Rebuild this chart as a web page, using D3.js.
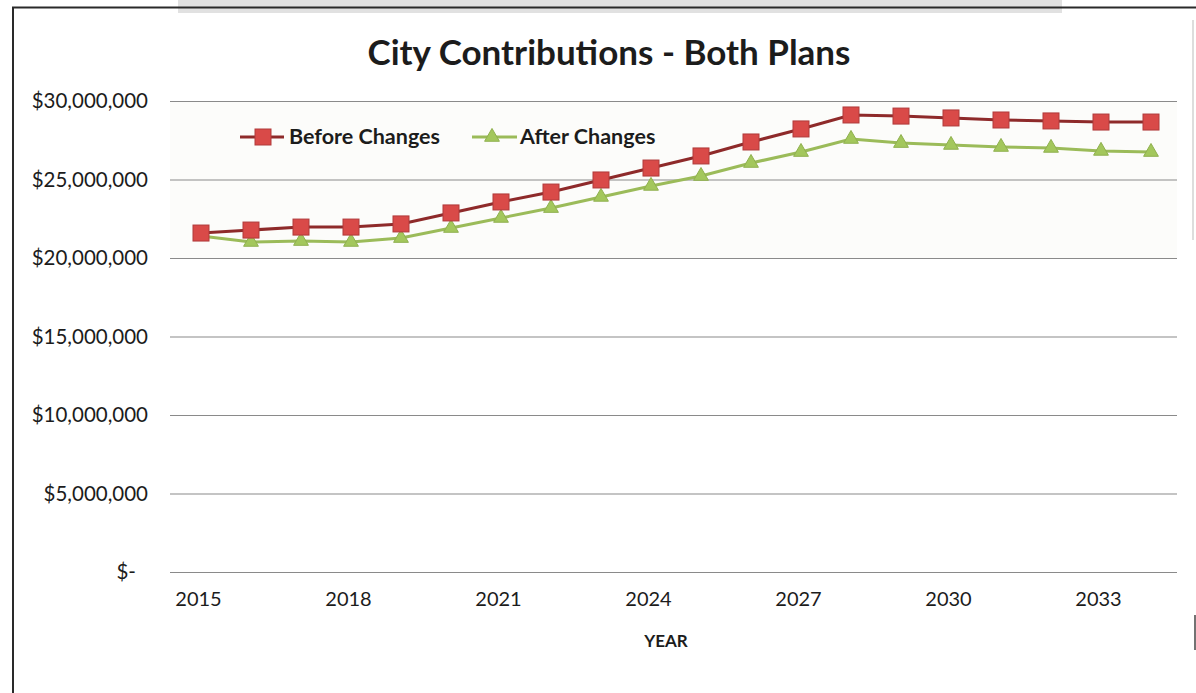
<!DOCTYPE html>
<html><head><meta charset="utf-8">
<script src="https://cdn.jsdelivr.net/npm/d3@7"></script>
<style>
body{margin:0;background:#fff}
svg{display:block}
text{font-family:Lato,"Open Sans",sans-serif;fill:#1c1c1c}
</style>
</head><body>
<svg id="c" width="1196" height="693"></svg>
<script>
const years = [2015,2016,2017,2018,2019,2020,2021,2022,2023,2024,2025,2026,2027,2028,2029,2030,2031,2032,2033,2034];
const beforeChanges = [21.59,21.78,21.97,21.97,22.17,22.87,23.57,24.20,24.97,25.73,26.50,27.39,28.22,29.11,29.04,28.92,28.79,28.73,28.66,28.66].map(v=>v*1e6);
const afterChanges  = [21.40,21.02,21.08,21.02,21.27,21.91,22.55,23.18,23.89,24.59,25.22,26.05,26.75,27.58,27.32,27.20,27.07,27.01,26.82,26.75].map(v=>v*1e6);
const yTickValues = [0,5000000,10000000,15000000,20000000,25000000,30000000];
const xTickYears = [2015,2018,2021,2024,2027,2030,2033];
const seriesNames = ["Before Changes","After Changes"];
const titleText = "City Contributions - Both Plans";
const xAxisTitle = "YEAR";

const svg = d3.select("#c");

// chart frame
svg.append("rect").attr("x",178).attr("y",0).attr("width",884).attr("height",13).attr("fill","#d9d9d9").attr("opacity",0.8);
svg.append("line").attr("x1",12).attr("x2",1196).attr("y1",7.5).attr("y2",7.5).attr("stroke","#2a2a2a").attr("stroke-width",2);
svg.append("line").attr("x1",13).attr("x2",13).attr("y1",7).attr("y2",693).attr("stroke","#2a2a2a").attr("stroke-width",2);
svg.append("line").attr("x1",1193).attr("x2",1193).attr("y1",20).attr("y2",240).attr("stroke","#bbb").attr("stroke-width",1);
svg.append("line").attr("x1",1195).attr("x2",1195).attr("y1",615).attr("y2",650).attr("stroke","#444").attr("stroke-width",1.5);

const x = d3.scalePoint().domain(years).range([201,1151]);
const y = d3.scaleLinear().domain([0,30000000]).range([572,101]);

// plot area tint
svg.append("rect").attr("x",170).attr("y",y(30000000)).attr("width",1007).attr("height",y(20000000)-y(30000000)).attr("fill","#fcfcfa");

// gridlines + y labels
const yFmt = d => d===0 ? "$-" : "$" + d3.format(",")(d);
const yAxis = d3.axisLeft(y).tickValues(yTickValues).tickSize(-1007).tickFormat(yFmt).tickPadding(22);
const gy = svg.append("g").attr("transform","translate(170,0)").call(yAxis);
gy.select(".domain").remove();
gy.selectAll(".tick line").attr("stroke","#8a8a8a").attr("stroke-width",1.2);
gy.selectAll(".tick text").attr("font-size",20.5).attr("fill","#1c1c1c").attr("font-family","Lato,'Open Sans',sans-serif")
  .attr("dx", d => d===0 ? -12 : 0);

// x labels
const xAxis = d3.axisBottom(x).tickValues(xTickYears).tickSize(0).tickPadding(0);
const gx = svg.append("g").attr("transform","translate(0,592)").call(xAxis);
gx.select(".domain").remove();
gx.selectAll(".tick text").attr("font-size",20).attr("fill","#1c1c1c").attr("font-family","Lato,'Open Sans',sans-serif").attr("dx",-3);

// title
svg.append("text").attr("x",609).attr("y",65).attr("text-anchor","middle").attr("font-size",35).attr("font-weight","bold").text(titleText);
svg.append("text").attr("x",666).attr("y",647).attr("text-anchor","middle").attr("font-size",17).attr("font-weight","bold").text(xAxisTitle);

// lines
const line = d3.line().x((d,i)=>x(years[i])).y(d=>y(d));
const redLine = "#8e2a2a", redFill = "#d94a48", greenLine = "#9bbb59", greenFill = "#a3c75c";
svg.append("path").datum(beforeChanges).attr("d",line).attr("fill","none").attr("stroke",redLine).attr("stroke-width",3);
svg.append("path").datum(afterChanges).attr("d",line).attr("fill","none").attr("stroke",greenLine).attr("stroke-width",3);

const tri = d3.symbol().type(d3.symbolTriangle).size(95);
svg.append("g").selectAll("path").data(afterChanges).join("path")
  .attr("d",tri).attr("transform",(d,i)=>`translate(${x(years[i])},${y(d)})`)
  .attr("fill",greenFill).attr("stroke","#8fb04e").attr("stroke-width",1);
svg.append("g").selectAll("rect").data(beforeChanges).join("rect")
  .attr("x",(d,i)=>x(years[i])-8).attr("y",d=>y(d)-8).attr("width",16).attr("height",16)
  .attr("fill",redFill).attr("stroke","#b03a3a").attr("stroke-width",1);

// legend
const lg = svg.append("g");
lg.append("line").attr("x1",240).attr("x2",284).attr("y1",137).attr("y2",137).attr("stroke",redLine).attr("stroke-width",3);
lg.append("rect").attr("x",263-8).attr("y",137-8).attr("width",16).attr("height",16).attr("fill",redFill).attr("stroke","#b03a3a");
lg.append("text").attr("x",289).attr("y",144).attr("font-size",21.5).attr("font-weight","bold").text(seriesNames[0]);
lg.append("line").attr("x1",472).attr("x2",517).attr("y1",137).attr("y2",137).attr("stroke",greenLine).attr("stroke-width",3);
lg.append("path").attr("d",tri).attr("transform","translate(492,137)").attr("fill",greenFill).attr("stroke","#8fb04e");
lg.append("text").attr("x",520).attr("y",144).attr("font-size",21.5).attr("font-weight","bold").text(seriesNames[1]);
</script>
</body></html>
